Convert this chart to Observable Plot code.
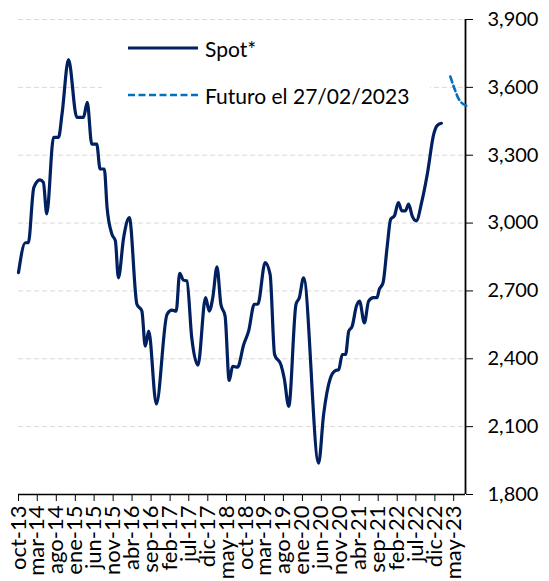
<!DOCTYPE html>
<html>
<head>
<meta charset="utf-8">
<script src="https://cdn.jsdelivr.net/npm/d3@7"></script>
<script src="https://cdn.jsdelivr.net/npm/@observablehq/plot@0.6"></script>
<style>
  body { margin: 0; background: #fff; font-family: Lato, "Open Sans", sans-serif; }
  #wrap { position: relative; width: 549px; height: 581px; }
  #legend { position: absolute; left: 102px; top: 26px; width: 328px; height: 92px; background: #fff; font-size: 21px; color: #000; }
  .item { position: absolute; left: 26px; display: flex; align-items: center; height: 26px; }
  .item svg { margin-right: 7px; }
</style>
</head>
<body>
<div id="wrap">
  <div id="chart"></div>
  <div id="legend">
    <div class="item" style="top:9px">
      <svg width="70" height="10"><line x1="0" y1="5" x2="70" y2="5" stroke="#002060" stroke-width="3.2"/></svg>
      <span>Spot*</span>
    </div>
    <div class="item" style="top:56px">
      <svg width="70" height="10"><line x1="0" y1="5" x2="70" y2="5" stroke="#0070c0" stroke-width="2.6" stroke-dasharray="7,3.5"/></svg>
      <span>Futuro el 27/02/2023</span>
    </div>
  </div>
</div>
<script>
// Spot* series
const spotDates = [
  "2013-10-01","2013-11-25","2013-12-19","2014-02-01","2014-03-22","2014-04-19","2014-05-16","2014-07-10",
  "2014-08-19","2014-09-16","2014-11-07","2015-01-13","2015-03-07","2015-04-07","2015-05-13","2015-06-22",
  "2015-07-19","2015-08-22","2015-09-13","2015-10-22","2015-11-19","2015-12-13","2016-01-25","2016-03-10",
  "2016-05-10","2016-06-19","2016-07-16","2016-08-13","2016-10-13","2017-01-07","2017-02-16","2017-03-22",
  "2017-04-19","2017-05-19","2017-06-16","2017-07-25","2017-09-13","2017-11-13","2017-12-13","2018-01-10",
  "2018-02-13","2018-03-16","2018-04-19","2018-05-22","2018-06-19","2018-07-28","2018-09-16","2018-10-25",
  "2018-12-10","2019-01-07","2019-03-07","2019-04-16","2019-05-22","2019-07-13","2019-08-07","2019-09-13",
  "2019-11-10","2019-12-07","2020-01-10","2020-05-10","2020-06-19","2020-08-13","2020-09-22","2020-10-19",
  "2020-11-16","2020-12-13","2021-01-07","2021-02-04","2021-03-10","2021-04-04","2021-05-13","2021-06-16",
  "2021-07-25","2021-08-22","2021-09-10","2021-10-10","2021-11-13","2021-12-10","2022-01-10","2022-02-10",
  "2022-03-10","2022-04-07","2022-05-04","2022-06-01","2022-07-04","2022-08-19","2022-10-01","2022-11-22",
  "2022-12-19","2023-01-22"
];
const spotValues = [
  2781,2913,2913,3157,3191,3180,3041,3379,
  3379,3482,3723,3467,3467,3534,3349,3349,
  3239,3239,3069,2951,2921,2758,2938,3024,
  2641,2611,2456,2522,2200,2596,2615,2611,
  2778,2748,2744,2493,2372,2670,2611,2670,
  2807,2641,2589,2304,2367,2363,2463,2522,
  2641,2641,2825,2773,2419,2372,2315,2190,
  2641,2670,2758,1939,2153,2315,2348,2352,
  2419,2419,2522,2544,2633,2655,2559,2655,
  2670,2670,2707,2736,2900,3017,3032,3091,
  3054,3054,3084,3032,3010,3098,3217,3394,
  3431,3441
];
// Futures curve on 27/02/2023
const futDates = ["2023-04-04","2023-05-13","2023-06-10","2023-08-10"];
const futValues = [3648,3586,3549,3519];

// Axes
const yTicks = [1800,2100,2400,2700,3000,3300,3600,3900];
const xTickDates = ["2013-10-01","2014-03-01","2014-08-01","2015-01-01","2015-06-01","2015-11-01",
  "2016-04-01","2016-09-01","2017-02-01","2017-07-01","2017-12-01","2018-05-01","2018-10-01",
  "2019-03-01","2019-08-01","2020-01-01","2020-06-01","2020-11-01","2021-04-01","2021-09-01",
  "2022-02-01","2022-07-01","2022-12-01","2023-05-01"];
const xTickLabels = ["oct-13","mar-14","ago-14","ene-15","jun-15","nov-15","abr-16","sep-16",
  "feb-17","jul-17","dic-17","may-18","oct-18","mar-19","ago-19","ene-20","jun-20","nov-20",
  "abr-21","sep-21","feb-22","jul-22","dic-22","may-23"];
const xStart = "2013-10-01";
const xEnd = "2023-08-04";

const spot = spotDates.map((d, i) => ({date: new Date(d), value: spotValues[i]}));
const fut = futDates.map((d, i) => ({date: new Date(d), value: futValues[i]}));
const tickDates = xTickDates.map(d => new Date(d));
const labelMap = new Map(tickDates.map((d, i) => [+d, xTickLabels[i]]));
const x0 = new Date(xStart), x1 = new Date(xEnd);

const chart = Plot.plot({
  width: 549,
  height: 581,
  marginTop: 19,
  marginBottom: 87,
  marginLeft: 18,
  marginRight: 84,
  style: {fontFamily: "Lato, 'Open Sans', sans-serif", fontSize: "20px", color: "#000", background: "#fff", overflow: "visible"},
  x: {type: "utc", domain: [x0, x1]},
  y: {domain: [1800, 3900]},
  marks: [
    Plot.gridY(yTicks, {stroke: "#d9d9d9", strokeOpacity: 1, strokeDasharray: "5,3", strokeWidth: 1}),
    Plot.ruleY([yTicks[0]], {stroke: "#000", strokeWidth: 1.3}),
    Plot.ruleX([x1], {stroke: "#000", strokeWidth: 1.8}),
    Plot.axisX({ticks: tickDates, tickFormat: d => labelMap.get(+d), tickRotate: -90, tickSize: 7, tickPadding: 4, label: null, fontSize: 22}),
    Plot.axisY({anchor: "right", ticks: yTicks, tickFormat: d3.format(","), tickSize: 7, tickPadding: 15, label: null, fontSize: 20}),
    Plot.line(spot, {x: "date", y: "value", curve: "monotone-x", stroke: "#002060", strokeWidth: 3.2}),
    Plot.line(fut, {x: "date", y: "value", curve: "monotone-x", stroke: "#0070c0", strokeWidth: 2.6, strokeDasharray: "6,3.5"})
  ]
});
document.getElementById("chart").appendChild(chart);
</script>
</body>
</html>
